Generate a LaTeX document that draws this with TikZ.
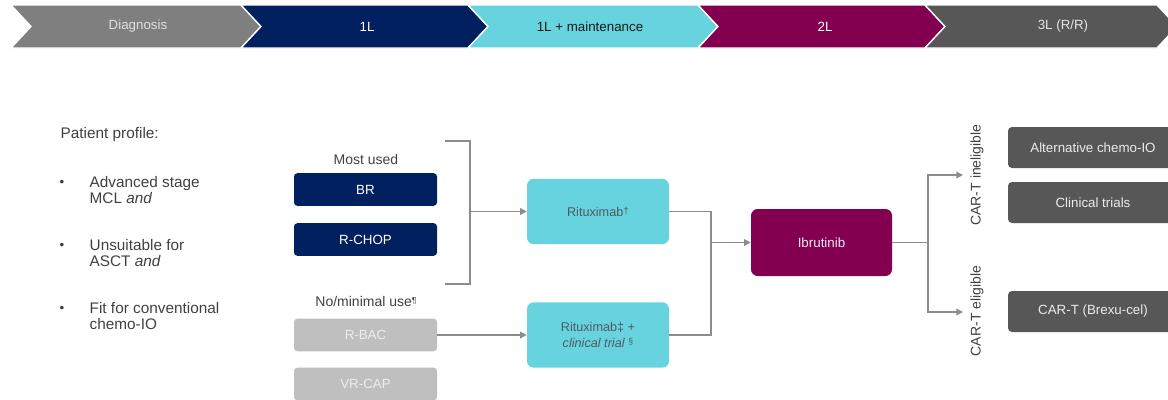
\documentclass[tikz,border=0pt]{standalone}
\usepackage{fontspec}
\setmainfont{Liberation Sans}
\usetikzlibrary{arrows.meta}

\definecolor{bannergray}{HTML}{7F7F7F}
\definecolor{navy}{HTML}{002060}
\definecolor{cyanbox}{HTML}{67D3DF}
\definecolor{maroon}{HTML}{830050}
\definecolor{darkgray}{HTML}{565756}
\definecolor{lightbox}{HTML}{BFBFBF}
\definecolor{txtgray}{HTML}{404040}
\definecolor{cyantxt}{HTML}{4E5C60}
\definecolor{linegray}{HTML}{8C8C8C}

\newcommand{\supmark}[1]{{\fontsize{6.5}{7}\selectfont\raisebox{2pt}{#1}}}

\tikzset{
  smallbox/.style={rounded corners=2.5pt, minimum width=107.25pt, minimum height=24.5pt, inner sep=0pt},
  mainbox/.style={fill=cyanbox, text=cyantxt, rounded corners=5pt, minimum width=106.5pt, minimum height=49pt, inner sep=0pt, align=center, font=\fontsize{9.5}{12}\selectfont},
  optbox/.style={fill=darkgray, text=white!92!black, rounded corners=3pt, minimum width=127.5pt, minimum height=30.75pt, inner sep=0pt},
  conn/.style={draw=linegray, line width=0.9pt},
  arr/.style={conn, -{Triangle[length=5pt,width=5pt]}},
}

\begin{document}
\begin{tikzpicture}[x=0.75pt, y=-0.75pt, every node/.style={font=\fontsize{10}{12}\selectfont, text=txtgray}]
	\useasboundingbox (0,0) rectangle (1168,400);
	\clip (0,0) rectangle (1168,400);
	% phase banner
	\foreach \xa/\xb/\xt/\col/\tcol/\lab [count=\i] in {11/241/138/bannergray/white!88!black/Diagnosis, 241/468/367/navy/white/1L, 468/698/590/cyanbox/black!90/1L + maintenance, 698/925/825/maroon/white/2L, 925/1157/1063/darkgray/white!90!black/{3L (R/R)}} {
		\fill[\col, draw=white, line width=1pt] (\xa,5) -- (\xb,5) -- (\xb+20,26.5) -- (\xb,48) -- (\xa,48) -- (\xa+20,26.5) -- cycle;
		\node[text=\tcol] (ph\i) at (\xt,26.5) {\lab};
	}
	% patient profile
	\node[anchor=west, font=\fontsize{11.5}{12.4}\selectfont] (prof) at (56,135) {Patient profile:};
	\foreach \y/\txt [count=\i] in {190/{Advanced stage\\MCL \textit{and}}, 253/{Unsuitable for\\ASCT \textit{and}}, 316/{Fit for conventional\\chemo-IO}} {
		\node[font=\fontsize{10}{11}\selectfont] (bul\i) at (62,\y-7) {•};
		\node[anchor=west, align=left, font=\fontsize{11.5}{12.4}\selectfont] (crit\i) at (85,\y) {\txt};
	}
	% first-line regimens
	\node[font=\fontsize{10.5}{12}\selectfont] (most) at (366,159) {Most used};
	\node[smallbox, fill=navy, text=white] (br) at (365.5,189.5) {BR};
	\node[smallbox, fill=navy, text=white] (rchop) at (365.5,239.5) {R-CHOP};
	\node[font=\fontsize{10.5}{12}\selectfont] (minimal) at (366,301) {No/minimal use\supmark{¶}};
	\node[smallbox, fill=lightbox, text=white!93!black] (rbac) at (365.5,335) {R-BAC};
	\node[smallbox, fill=lightbox, text=white!93!black] (vrcap) at (365.5,384) {VR-CAP};
	% maintenance
	\node[mainbox] (rit) at (598,211.5) {Rituximab{\fontsize{7.5}{8}\selectfont\raisebox{1.5pt}{†}}};
	\node[mainbox] (ritct) at (598,335) {Rituximab‡ +\\\textit{clinical trial} \supmark{§}};
	% second line
	\node[mainbox, fill=maroon, text=white!92!black, minimum width=105.75pt, minimum height=50.25pt, font=\fontsize{10}{12}\selectfont] (ibr) at (821.5,242.5) {Ibrutinib};
	% third line
	\node[optbox] (alt) at (1093,147.5) {Alternative chemo-IO};
	\node[optbox] (trials) at (1093,202.5) {Clinical trials};
	\node[optbox] (cart) at (1093,311.5) {CAR-T (Brexu-cel)};
	\node[rotate=90, font=\fontsize{10.5}{12}\selectfont] (inel) at (977,175) {CAR-T ineligible};
	\node[rotate=90, font=\fontsize{10.5}{12}\selectfont] (elig) at (977,311) {CAR-T eligible};
	% connectors
	\coordinate (bkt) at (445,141);
	\coordinate (bkb) at (445,284);
	\coordinate (bkx) at (470,0);
	\draw[conn] (bkt) -| (bkx |- bkb) -- (bkb);
	\draw[arr] (bkx |- rit.west) -- (rit.west);
	\draw[arr] (rbac.east) -- (ritct.west);
	\coordinate (mx) at (711,0);
	\draw[conn] (rit.east) -| (mx |- ritct.east) -- (ritct.east);
	\draw[arr] (mx |- ibr.west) -- (ibr.west);
	\coordinate (bx) at (928,0);
	\coordinate (inelend) at (963,175);
	\coordinate (eligend) at (963,312);
	\draw[conn] (ibr.east) -- (bx |- ibr.east);
	\draw[arr] (bx |- ibr.east) |- (inelend);
	\draw[arr] (bx |- ibr.east) |- (eligend);
\end{tikzpicture}
\end{document}
